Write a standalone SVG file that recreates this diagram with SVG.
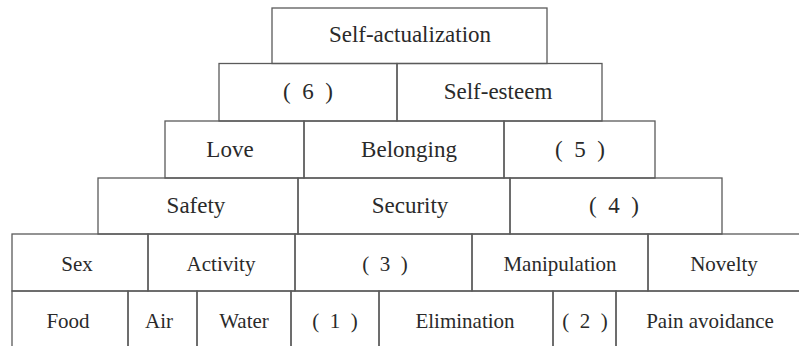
<svg xmlns="http://www.w3.org/2000/svg" width="799" height="346" viewBox="0 0 799 346">
<style>
rect{fill:none;stroke:#5a5a5a;stroke-width:1.3}
text{font-family:'Liberation Serif','DejaVu Serif',serif;fill:#2a2a2a;text-anchor:middle;white-space:pre}
.u{font-size:23px}
.l{font-size:21px}
</style>
<rect x="0" y="0" width="799" height="346" style="fill:#fff;stroke:none"/>
<g id="self-actualization"><rect x="272" y="8" width="275" height="55.5"/><text class="u" x="410" y="42">Self-actualization</text></g>
<g id="n6"><rect x="219" y="63.5" width="178" height="57.5"/><text class="u" x="308" y="99" xml:space="preserve">(  6  )</text></g>
<g id="self-esteem"><rect x="397" y="63.5" width="205" height="57.5"/><text class="u" x="498" y="99">Self-esteem</text></g>
<g id="love"><rect x="165" y="121" width="139" height="57"/><text class="u" x="230" y="157">Love</text></g>
<g id="belonging"><rect x="304" y="121" width="200" height="57"/><text class="u" x="409" y="157">Belonging</text></g>
<g id="n5"><rect x="504" y="121" width="151" height="57"/><text class="u" x="580" y="157" xml:space="preserve">(  5  )</text></g>
<g id="safety"><rect x="98" y="178" width="200" height="56"/><text class="u" x="196" y="213">Safety</text></g>
<g id="security"><rect x="298" y="178" width="212" height="56"/><text class="u" x="410" y="213">Security</text></g>
<g id="n4"><rect x="510" y="178" width="212" height="56"/><text class="u" x="614" y="213" xml:space="preserve">(  4  )</text></g>
<g id="sex"><rect x="12" y="234" width="136" height="57"/><text class="l" x="77" y="271">Sex</text></g>
<g id="activity"><rect x="148" y="234" width="147" height="57"/><text class="l" x="221" y="271">Activity</text></g>
<g id="n3"><rect x="295" y="234" width="177" height="57"/><text class="l" x="385" y="271" xml:space="preserve">(  3  )</text></g>
<g id="manipulation"><rect x="472" y="234" width="176" height="57"/><text class="l" x="560" y="271">Manipulation</text></g>
<g id="novelty"><rect x="648" y="234" width="170" height="57"/><text class="l" x="724" y="271">Novelty</text></g>
<g id="food"><rect x="12" y="291" width="116" height="70"/><text class="l" x="68" y="328">Food</text></g>
<g id="air"><rect x="128" y="291" width="69" height="70"/><text class="l" x="159" y="328">Air</text></g>
<g id="water"><rect x="197" y="291" width="94" height="70"/><text class="l" x="244" y="328">Water</text></g>
<g id="n1"><rect x="291" y="291" width="88" height="70"/><text class="l" x="335" y="328" xml:space="preserve">(  1  )</text></g>
<g id="elimination"><rect x="379" y="291" width="174" height="70"/><text class="l" x="465" y="328">Elimination</text></g>
<g id="n2"><rect x="553" y="291" width="63" height="70"/><text class="l" x="585" y="328" xml:space="preserve">(  2  )</text></g>
<g id="pain-avoidance"><rect x="616" y="291" width="200" height="70"/><text class="l" x="710" y="328">Pain avoidance</text></g>
<g id="connectors"></g>
</svg>
